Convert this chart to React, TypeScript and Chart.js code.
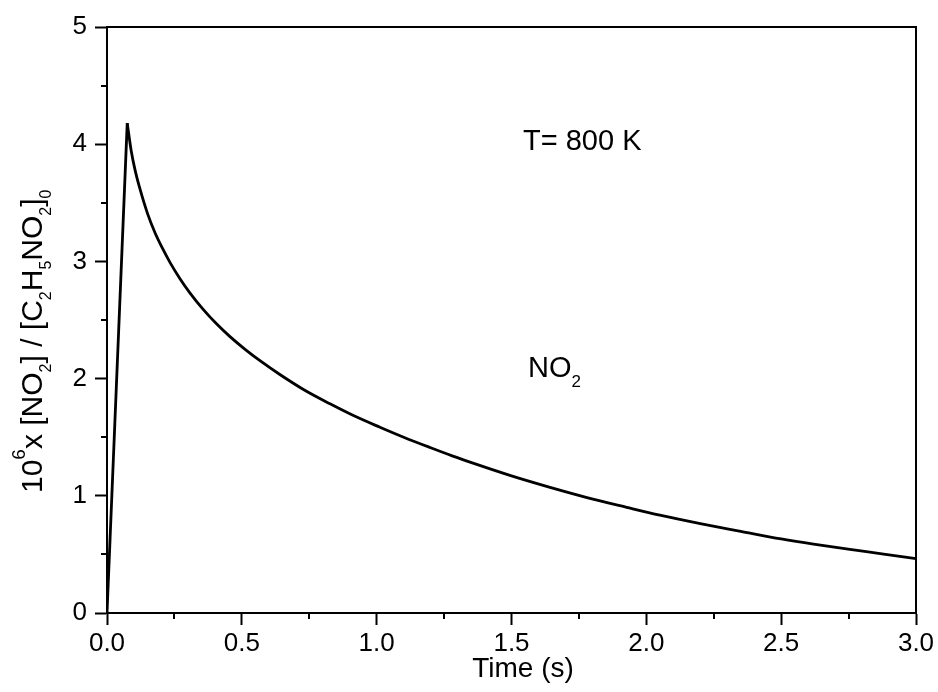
import React, { useEffect, useRef } from "react";
import { Chart, registerables } from "chart.js";

Chart.register(...registerables);

// Time (s)
const times = [
  0, 0.075, 0.09, 0.105, 0.122, 0.15, 0.178, 0.205, 0.234, 0.27, 0.308, 0.355,
  0.407, 0.456, 0.512, 0.575, 0.641, 0.73, 0.827, 0.92, 1.012, 1.1, 1.198, 1.28,
  1.371, 1.5, 1.643, 1.78, 1.927, 2.05, 2.2, 2.35, 2.5, 2.62, 2.755, 2.88, 3.0,
];
// 10^6 x [NO2]/[C2H5NO2]0
const no2 = [
  0, 4.18, 3.94, 3.77, 3.62, 3.41, 3.245, 3.115, 2.99, 2.855, 2.73, 2.595,
  2.465, 2.358, 2.25, 2.14, 2.035, 1.905, 1.785, 1.678, 1.585, 1.5, 1.412, 1.341,
  1.268, 1.17, 1.072, 0.985, 0.902, 0.835, 0.763, 0.697, 0.632, 0.587, 0.542,
  0.503, 0.464,
];
// index of the peak: rise is straight, decay is smooth
const peakIndex = 1;

const xMinorTicks = [0.25, 0.75, 1.25, 1.75, 2.25, 2.75];
const yMinorTicks = [0.5, 1.5, 2.5, 3.5, 4.5];

const FONT = "'Liberation Sans', Arial, sans-serif";

type Part = { t: string; k: "n" | "sub" | "sup" };

const yTitleParts: Part[] = [
  { t: "10", k: "n" },
  { t: "6", k: "sup" },
  { t: "x [NO", k: "n" },
  { t: "2", k: "sub" },
  { t: "] / [C", k: "n" },
  { t: "2", k: "sub" },
  { t: "H", k: "n" },
  { t: "5", k: "sub" },
  { t: "NO", k: "n" },
  { t: "2", k: "sub" },
  { t: "]", k: "n" },
  { t: "0", k: "sub" },
];

function drawParts(
  ctx: CanvasRenderingContext2D,
  parts: Part[],
  main: number,
  small: number,
  supOff: number,
  subOff: number,
  supSize: number
) {
  let xx = 0;
  for (const p of parts) {
    let size = main;
    let dy = 0;
    if (p.k === "sub") {
      size = small;
      dy = subOff;
    } else if (p.k === "sup") {
      size = supSize;
      dy = -supOff;
    }
    ctx.font = `${size}px ${FONT}`;
    ctx.fillText(p.t, xx, dy);
    xx += ctx.measureText(p.t).width;
  }
}

function drawNO2(ctx: CanvasRenderingContext2D, x: number, y: number) {
  ctx.save();
  ctx.translate(x, y);
  drawParts(ctx, [{ t: "NO", k: "n" }, { t: "2", k: "sub" }], 29, 17, 0, 10, 17);
  ctx.restore();
}

const decor = {
  id: "decor",
  afterDraw(chart: any) {
    const { ctx, chartArea: a, scales } = chart;
    const xs = scales.x;
    const ys = scales.y;
    ctx.save();
    ctx.strokeStyle = "#000";
    ctx.lineWidth = 2;
    ctx.beginPath();
    ctx.moveTo(a.left - 1, a.top);
    ctx.lineTo(a.right, a.top);
    ctx.lineTo(a.right, a.bottom);
    ctx.stroke();
    ctx.beginPath();
    for (const v of xMinorTicks) {
      const px = Math.round(xs.getPixelForValue(v));
      ctx.moveTo(px, a.bottom);
      ctx.lineTo(px, a.bottom + 6);
    }
    for (const v of yMinorTicks) {
      const py = Math.round(ys.getPixelForValue(v));
      ctx.moveTo(a.left, py);
      ctx.lineTo(a.left - 6, py);
    }
    ctx.stroke();

    ctx.fillStyle = "#000";
    ctx.textBaseline = "alphabetic";
    ctx.textAlign = "left";
    ctx.font = `29px ${FONT}`;
    ctx.fillText("T= 800 K", 523, 150);
    drawNO2(ctx, 528, 377);

    ctx.font = `28px ${FONT}`;
    ctx.textAlign = "center";
    ctx.fillText("Time (s)", 523, 677);

    ctx.textAlign = "left";
    ctx.save();
    ctx.translate(42, 493);
    ctx.rotate(-Math.PI / 2);
    drawParts(ctx, yTitleParts, 30, 16, 17, 9, 19);
    ctx.restore();

    ctx.restore();
  },
};

export default function App() {
  const ref = useRef<HTMLCanvasElement | null>(null);
  useEffect(() => {
    if (!ref.current) return;
    const points = times.map((t, i) => ({ x: t, y: no2[i] }));
    const rise = points.slice(0, peakIndex + 1);
    const decay = points.slice(peakIndex);
    const tickFont = { family: FONT, size: 26 };
    const lineStyle = {
      borderColor: "#000",
      borderWidth: 2.8,
      pointRadius: 0,
      fill: false,
      borderJoinStyle: "miter" as const,
    };
    const chart = new Chart(ref.current, {
      type: "line",
      data: {
        datasets: [
          { label: "NO2 rise", data: rise, tension: 0, ...lineStyle },
          { label: "NO2", data: decay, cubicInterpolationMode: "monotone", ...lineStyle },
        ],
      },
      options: {
        animation: false,
        responsive: false,
        devicePixelRatio: 1,
        layout: { padding: { left: 0, top: 27, right: 22, bottom: 0 } },
        plugins: {
          legend: { display: false },
          tooltip: { enabled: false },
          title: { display: false },
        },
        scales: {
          x: {
            type: "linear",
            min: 0,
            max: 3,
            afterFit: (s: any) => {
              s.height = 79;
            },
            ticks: {
              stepSize: 0.5,
              color: "#000",
              font: tickFont,
              padding: 3,
              maxRotation: 0,
              callback: (v: any) => Number(v).toFixed(1),
            },
            grid: {
              display: true,
              drawOnChartArea: false,
              drawTicks: true,
              tickLength: 12,
              tickWidth: 2,
              tickColor: "#000",
            },
            border: { display: true, color: "#000", width: 2 },
          },
          y: {
            type: "linear",
            min: 0,
            max: 5,
            afterFit: (s: any) => {
              s.width = 107;
            },
            ticks: {
              stepSize: 1,
              color: "#000",
              font: tickFont,
              padding: 8,
              callback: (v: any) => String(v),
            },
            grid: {
              display: true,
              drawOnChartArea: false,
              drawTicks: true,
              tickLength: 12,
              tickWidth: 2,
              tickColor: "#000",
            },
            border: { display: true, color: "#000", width: 2 },
          },
        },
      },
      plugins: [decor],
    });
    return () => chart.destroy();
  }, []);
  return (
    <div style={{ position: "fixed", left: 0, top: 0, width: 938, height: 692, background: "#fff" }}>
      <canvas ref={ref} width={938} height={692} style={{ width: 938, height: 692 }} />
    </div>
  );
}
